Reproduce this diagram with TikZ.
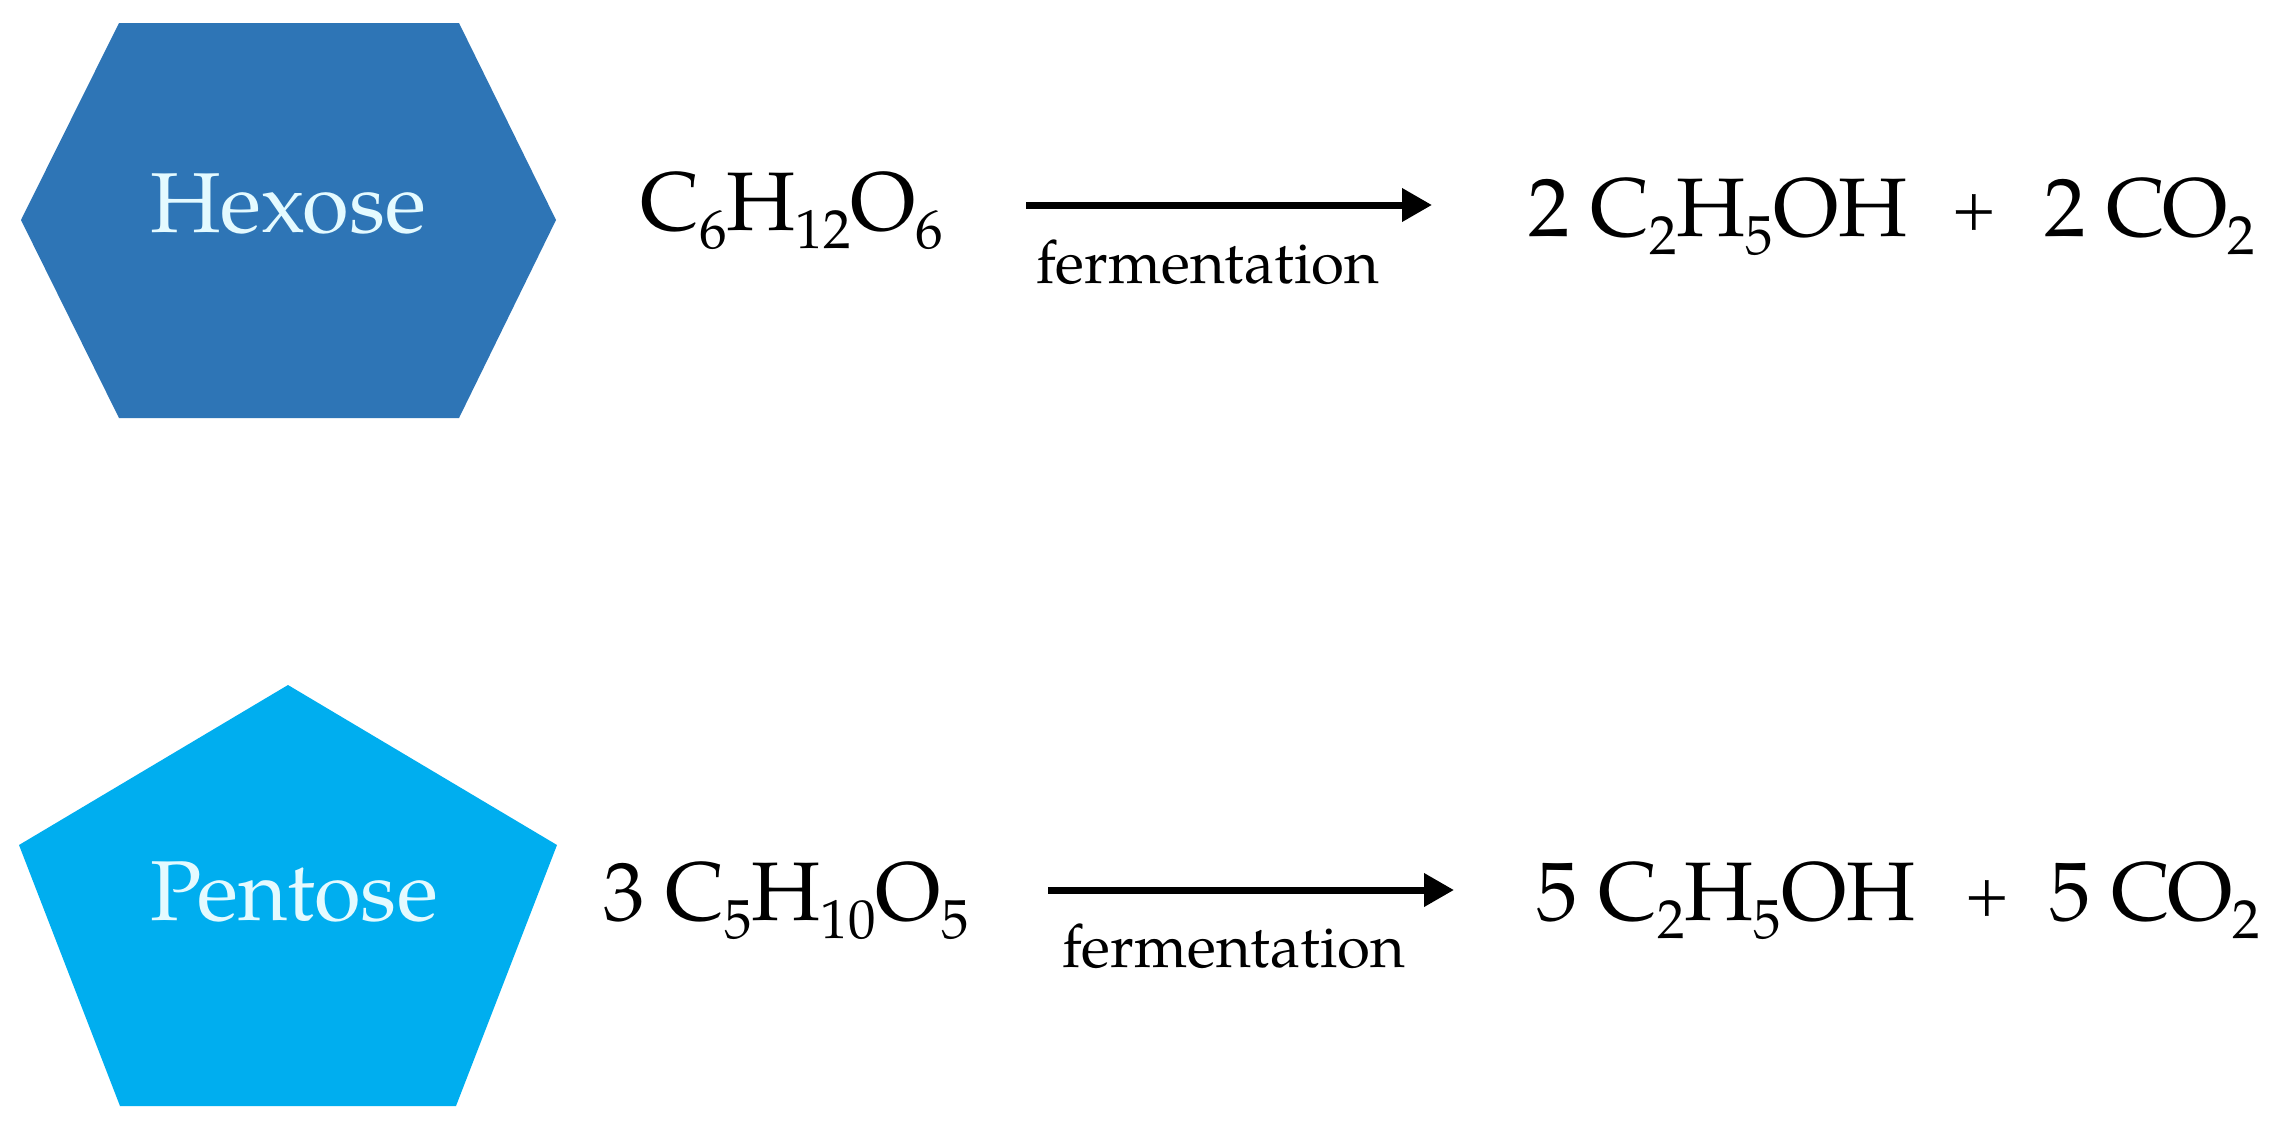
\documentclass[tikz,border=0pt]{standalone}
\usepackage{fontspec}
\setmainfont{TeX Gyre Pagella}
\usetikzlibrary{arrows.meta}
\definecolor{hexblue}{RGB}{46,117,182}
\definecolor{penblue}{RGB}{0,174,239}
\definecolor{lbl}{RGB}{228,250,255}
\newcommand{\chs}[1]{\raisebox{-18bp}{\fontsize{55bp}{55bp}\selectfont #1}}
\tikzset{
  formula/.style={font=\fontsize{83bp}{90bp}\selectfont, inner sep=0pt, anchor=base west},
  note/.style={font=\fontsize{60bp}{64bp}\selectfont, inner sep=0pt},
  shapelbl/.style={font=\fontsize{85bp}{90bp}\selectfont, text=lbl, inner sep=0pt, anchor=base},
  rxn/.style={line width=7bp, -{Triangle[length=30bp,width=32bp]}}
}
\begin{document}
\begin{tikzpicture}[x=1bp,y=-1bp]
\useasboundingbox[fill=white] (0,0) rectangle (2289,1127);
% shapes
\fill[hexblue] (119,23) -- (459,23) -- (556,220) -- (459,418) -- (119,418) -- (21,220) -- cycle;
\fill[penblue] (288,685) -- (557,845) -- (456,1106) -- (120,1106) -- (19,845) -- cycle;
\node[shapelbl] (hex) at (288,232) {Hexose};
\node[shapelbl] (pen) at (294,920) {Pentose};
% row 1
\node[formula] (r1) at (640,230) {C\chs{6}H\chs{12}O\chs{6}};
\coordinate (a1s) at (1026,205);
\coordinate (a1e) at (1432,205);
\draw[rxn] (a1s) -- (a1e);
\node[note, anchor=base west] (f1) at (1036,283) {fermentation};
\node[formula] (p1) at (1528,236) {2 C\chs{2}H\chs{5}OH};
\node[note] (plus1) at (1974,212) {+};
\node[formula] (q1) at (2044,236) {2 CO\chs{2}};
% row 2
\node[formula] (r2) at (603,920) {3 C\chs{5}H\chs{10}O\chs{5}};
\coordinate (a2s) at (1048,890);
\coordinate (a2e) at (1454,890);
\draw[rxn] (a2s) -- (a2e);
\node[note, anchor=base west] (f2) at (1062,967) {fermentation};
\node[formula] (p2) at (1536,920) {5 C\chs{2}H\chs{5}OH};
\node[note] (plus2) at (1987,898) {+};
\node[formula] (q2) at (2049,920) {5 CO\chs{2}};
\end{tikzpicture}
\end{document}
